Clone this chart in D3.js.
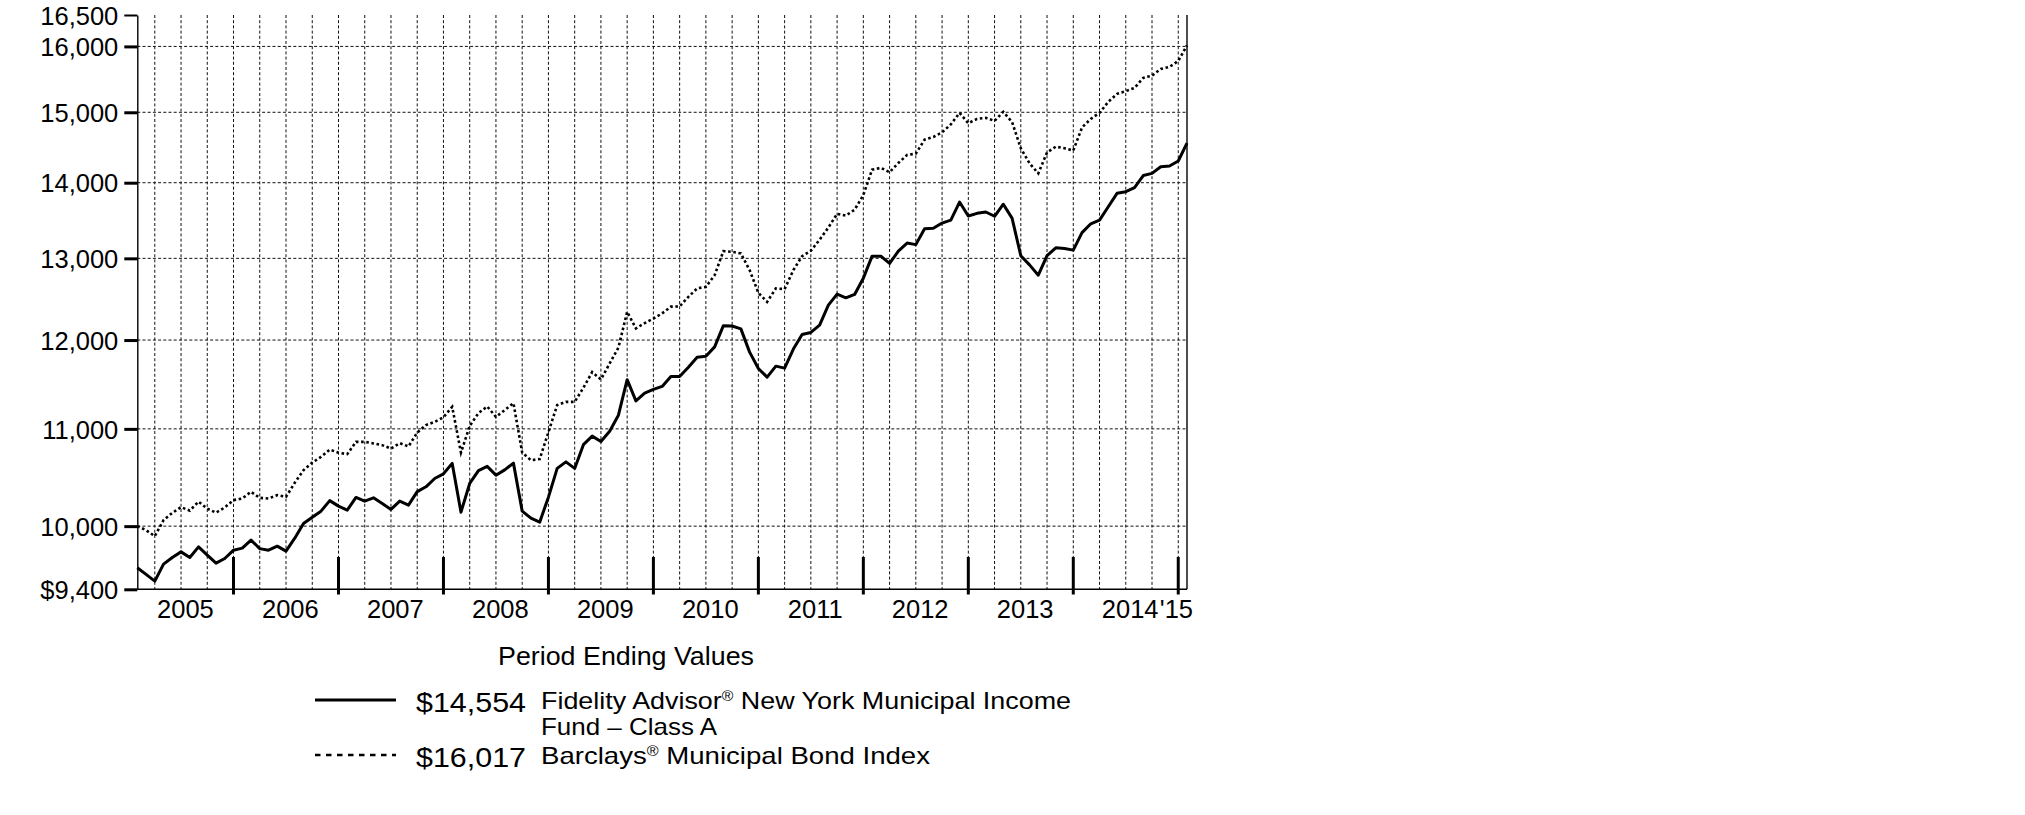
<!DOCTYPE html>
<html><head><meta charset="utf-8">
<script src="https://cdn.jsdelivr.net/npm/d3@7"></script>
<style>
body{margin:0;background:#fff}
svg{display:block;background:#fff}
text{font-family:"Liberation Sans",Arial,Helvetica,sans-serif;fill:#000}
</style>
</head><body>
<svg id="chart" width="2025" height="815"></svg>
<script>
// ---- data (month-end values, Jan 2005 .. Jan 2015) ----
const fundValues = [
9600,9538,9475,9635,9698,9751,9698,9799,9720,9644,9688,9767,
9787,9864,9782,9767,9806,9758,9883,10026,10088,10148,10253,10198,
10158,10285,10248,10281,10225,10165,10248,10208,10344,10393,10478,10526,
10634,10138,10427,10559,10603,10512,10567,10637,10148,10079,10039,10288,
10582,10650,10582,10831,10922,10865,10975,11148,11543,11306,11392,11433,
11467,11580,11580,11685,11800,11812,11920,12170,12166,12132,11859,11670,
11572,11697,11674,11894,12066,12090,12176,12417,12552,12507,12548,12750,
13028,13028,12935,13092,13196,13176,13382,13388,13457,13497,13737,13550,
13586,13604,13547,13708,13523,13034,12917,12787,13034,13135,13127,13105,
13332,13448,13497,13674,13855,13877,13934,14099,14129,14221,14231,14301,
14554];
const indexValues = [
10000,9961,9902,10059,10131,10188,10153,10243,10173,10133,10185,10258,
10275,10342,10281,10275,10308,10291,10434,10564,10642,10702,10779,10746,
10731,10861,10861,10844,10826,10789,10847,10812,10960,11041,11076,11125,
11240,10747,11031,11171,11244,11130,11204,11281,10747,10668,10679,10965,
11259,11295,11295,11453,11629,11546,11728,11912,12336,12138,12201,12255,
12318,12399,12402,12519,12623,12642,12787,13092,13083,13063,12851,12568,
12457,12623,12614,12851,13028,13098,13239,13398,13579,13556,13634,13832,
14180,14206,14145,14273,14386,14404,14603,14642,14707,14823,14991,14840,
14903,14918,14874,15006,14859,14480,14269,14129,14421,14503,14480,14449,
14779,14903,14991,15154,15273,15314,15363,15514,15549,15651,15682,15774,
16017];
const months = d3.timeMonths(new Date(2005,0,1), new Date(2015,1,1)).map(d3.timeFormat("%Y-%m"));
const yTickValues = [9400,10000,11000,12000,13000,14000,15000,16000,16500];
const yTickLabels = ["$9,400","10,000","11,000","12,000","13,000","14,000","15,000","16,000","16,500"];
const yearLabels = ["2005","2006","2007","2008","2009","2010","2011","2012","2013","2014"];
const lastLabel = "'15";
const legendTitle = "Period Ending Values";
const endingValues = ["$14,554","$16,017"];
const seriesNameParts = [
  ["Fidelity Advisor", "®", " New York Municipal Income"],
  ["Fund – Class A"],
  ["Barclays", "®", " Municipal Bond Index"]
];

// ---- layout ----
const svg = d3.select("#chart");
const pLeft = 137.3, pRight = 1187, pTop = 15, pBottom = 589.3;
const x = d3.scalePoint().domain(months).range([pLeft, pRight]);
const y = d3.scaleLog().domain([9400,16500]).range([pBottom, pTop]);

// grid
const vGrid = months.filter(m => ["03","06","09","12"].includes(m.slice(5)));
svg.append("g").selectAll("line").data(vGrid).join("line")
  .attr("x1", d => x(d)).attr("x2", d => x(d))
  .attr("y1", pTop).attr("y2", pBottom)
  .attr("stroke", "#111").attr("stroke-width", 1).attr("stroke-dasharray", "3,2.2");
svg.append("g").selectAll("line").data(yTickValues.filter(v => v >= 10000 && v <= 16000)).join("line")
  .attr("x1", pLeft).attr("x2", pRight)
  .attr("y1", d => y(d)).attr("y2", d => y(d))
  .attr("stroke", "#111").attr("stroke-width", 1).attr("stroke-dasharray", "3,2.2");

// frame lines
svg.append("line").attr("x1", pLeft).attr("x2", pRight).attr("y1", pBottom).attr("y2", pBottom)
  .attr("stroke", "#000").attr("stroke-width", 1.4);
svg.append("line").attr("x1", pRight).attr("x2", pRight).attr("y1", pTop).attr("y2", pBottom)
  .attr("stroke", "#000").attr("stroke-width", 1.4);

// y axis
const yAxis = d3.axisLeft(y).tickValues(yTickValues)
  .tickFormat((d, i) => yTickLabels[i]).tickSize(13).tickSizeOuter(0).tickPadding(6);
const ya = svg.append("g").attr("transform", `translate(${pLeft},0)`).call(yAxis);
ya.attr("font-family", null).attr("font-size", null);
ya.select(".domain").attr("stroke", "#000").attr("stroke-width", 1.4);
ya.selectAll(".tick line").attr("stroke", "#000").attr("stroke-width", d => d === 16500 ? 2 : 3);
ya.selectAll(".tick text").style("font-size", "25.5px").attr("dy", "0.36em");

// year ticks
const yearEnds = months.filter(m => m.endsWith("-12"));
svg.append("g").selectAll("line").data(yearEnds).join("line")
  .attr("x1", d => x(d)).attr("x2", d => x(d))
  .attr("y1", 557).attr("y2", 594.5)
  .attr("stroke", "#000").attr("stroke-width", 3);

// year labels
svg.append("g").selectAll("text").data(yearLabels).join("text")
  .attr("x", d => x(d + "-06") + x.step() / 2)
  .attr("y", 618.3)
  .attr("text-anchor", "middle")
  .style("font-size", "25.5px")
  .text(d => d);
svg.append("text").attr("x", x(months[months.length - 1]) + 6).attr("y", 618.3)
  .attr("text-anchor", "end").style("font-size", "25.5px").text(lastLabel);

// series
const line = d3.line().x((d, i) => x(months[i])).y(d => y(d));
svg.append("path").datum(indexValues).attr("d", line)
  .attr("fill", "none").attr("stroke", "#000").attr("stroke-width", 2.6)
  .attr("stroke-dasharray", "2.6,2.6");
svg.append("path").datum(fundValues).attr("d", line)
  .attr("fill", "none").attr("stroke", "#000").attr("stroke-width", 3)
  .attr("stroke-linejoin", "round");

// legend
const lg = svg.append("g");
lg.append("text").attr("x", 498).attr("y", 665).style("font-size", "25.5px")
  .attr("textLength", 256).attr("lengthAdjust", "spacingAndGlyphs").text(legendTitle);

lg.append("line").attr("x1", 315).attr("x2", 396).attr("y1", 700).attr("y2", 700)
  .attr("stroke", "#000").attr("stroke-width", 3);
lg.append("line").attr("x1", 315).attr("x2", 396).attr("y1", 755).attr("y2", 755)
  .attr("stroke", "#000").attr("stroke-width", 2.6).attr("stroke-dasharray", "5.5,5.5");

lg.append("text").attr("x", 416).attr("y", 712).style("font-size", "28.5px")
  .attr("textLength", 110).attr("lengthAdjust", "spacingAndGlyphs").text(endingValues[0]);
lg.append("text").attr("x", 416).attr("y", 767).style("font-size", "28.5px")
  .attr("textLength", 110).attr("lengthAdjust", "spacingAndGlyphs").text(endingValues[1]);

// a legend line built from separate text pieces, stretched to a target width
function legendLine(x0, baseline, parts, target) {
  const els = parts.map(p => {
    const sup = p === "®";
    const t = lg.append("text").attr("y", sup ? baseline - 8 : baseline)
      .style("font-size", sup ? "14px" : "24px").style("white-space", "pre").text(p);
    return t;
  });
  const widths = els.map(t => t.node().getComputedTextLength());
  const k = target / d3.sum(widths);
  let cx = x0;
  els.forEach((t, i) => {
    const w = widths[i] * k;
    t.attr("x", cx).attr("textLength", w).attr("lengthAdjust", "spacingAndGlyphs");
    cx += w;
  });
}
legendLine(541, 709, seriesNameParts[0], 530);
legendLine(541, 735, seriesNameParts[1], 176);
legendLine(541, 764, seriesNameParts[2], 389);
</script>
</body></html>
